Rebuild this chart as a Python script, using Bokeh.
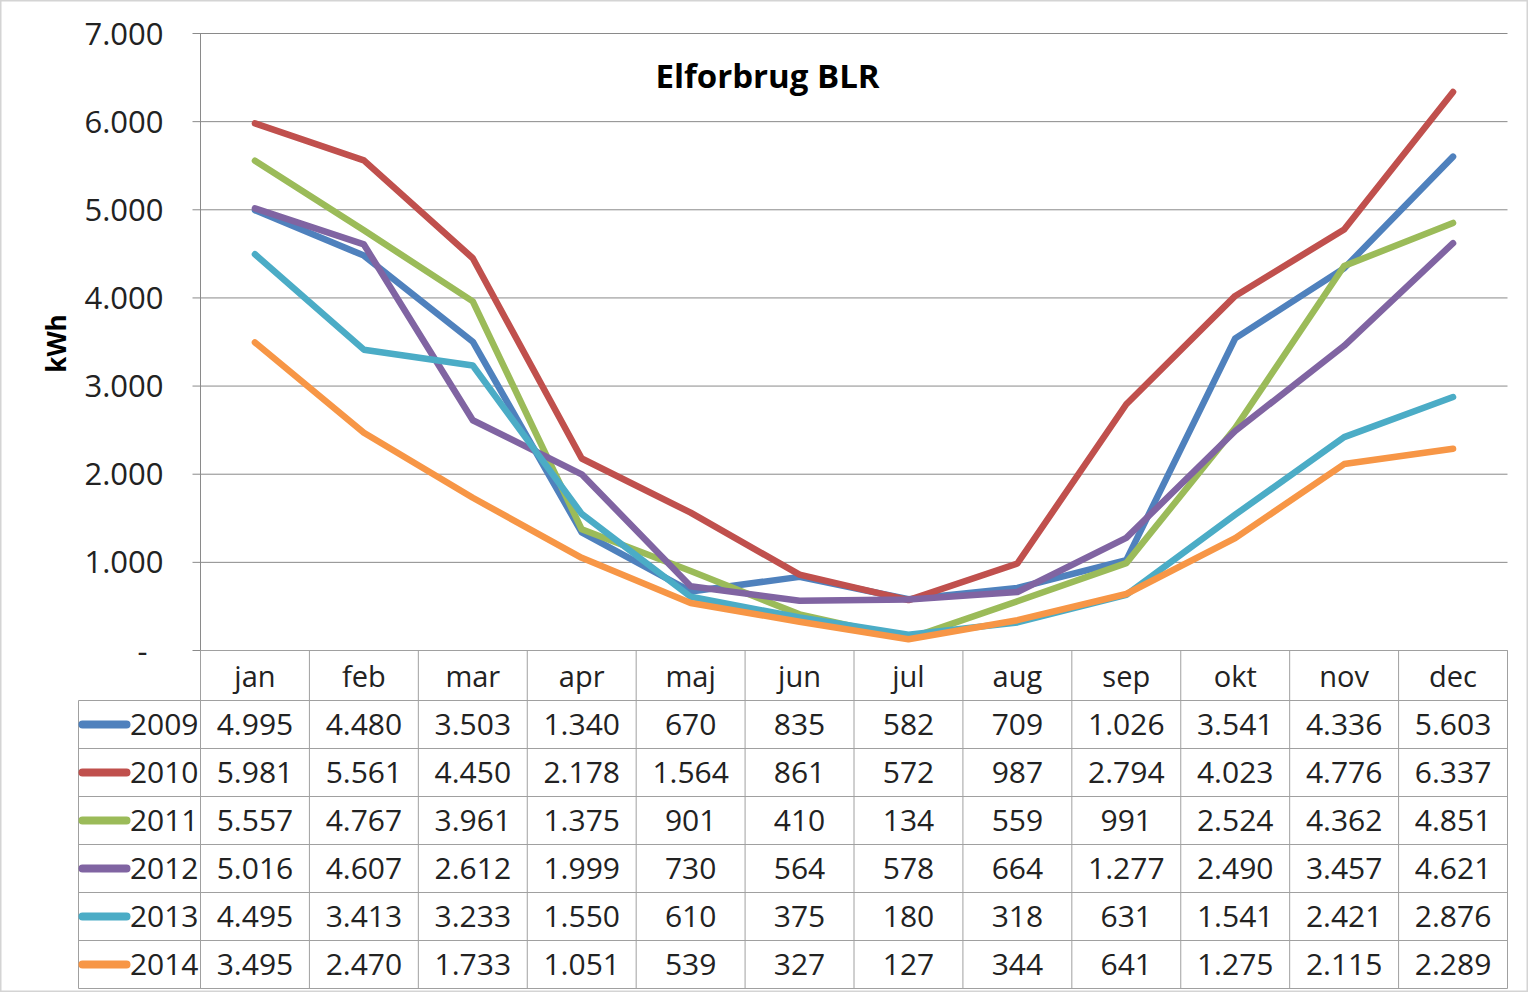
import math
from bokeh.plotting import figure
from bokeh.models import Range1d
from bokeh.core.properties import value
from bokeh.embed import file_html
from bokeh.resources import INLINE

# ---------------- data ----------------
months = ["jan", "feb", "mar", "apr", "maj", "jun", "jul", "aug", "sep", "okt", "nov", "dec"]
years = ["2009", "2010", "2011", "2012", "2013", "2014"]
v2009 = [4995, 4480, 3503, 1340, 670, 835, 582, 709, 1026, 3541, 4336, 5603]
v2010 = [5981, 5561, 4450, 2178, 1564, 861, 572, 987, 2794, 4023, 4776, 6337]
v2011 = [5557, 4767, 3961, 1375, 901, 410, 134, 559, 991, 2524, 4362, 4851]
v2012 = [5016, 4607, 2612, 1999, 730, 564, 578, 664, 1277, 2490, 3457, 4621]
v2013 = [4495, 3413, 3233, 1550, 610, 375, 180, 318, 631, 1541, 2421, 2876]
v2014 = [3495, 2470, 1733, 1051, 539, 327, 127, 344, 641, 1275, 2115, 2289]
series = [v2009, v2010, v2011, v2012, v2013, v2014]
colors = ["#4F81BD", "#C0504D", "#9BBB59", "#8064A2", "#4BACC6", "#F79646"]
y_ticks = [0, 1000, 2000, 3000, 4000, 5000, 6000, 7000]
title_text = "Elforbrug BLR"
y_label = "kWh"

FONT = "Open Sans"
TXT = "#222222"
GRID = "#8a8a8a"
TABLE = "#a0a0a0"


def dk(n):
    return "-" if n == 0 else f"{n:,}".replace(",", ".")


# ---------------- geometry (pixels of the canvas) ----------------
W, H = 1528, 992
X0 = 200.0            # left edge of the 'jan' column / value axis
CW = 1307.0 / 12      # one month column
Y0 = 650.0            # zero line
KPX = 617.0 / 7000    # pixels per kWh
RH = 48.0             # table row height
HDR = 50.0 / RH       # header row height in row units
LEG = 122.0 / CW      # legend column width in month units

p = figure(width=W, height=H,
           x_range=Range1d(-X0 / CW, (W - X0) / CW),
           y_range=Range1d(-(H - Y0) / KPX, Y0 / KPX),
           output_backend="svg", toolbar_location=None,
           x_axis_location=None, y_axis_location=None,
           min_border=0, min_border_left=0, min_border_right=0,
           min_border_top=0, min_border_bottom=0,
           outline_line_color="#d4d4d4", outline_line_width=2,
           background_fill_color="white", border_fill_color="white")
p.grid.visible = False
p.extra_y_ranges = {"tbl": Range1d(HDR - (H - Y0) / RH, HDR + Y0 / RH)}

n = len(months)
nr = len(years)
xc = [i + 0.5 for i in range(n)]

# ---- chart: gridlines with short outer ticks, value axis line ----
tick_out = 8.0 / CW
p.segment(x0=[-tick_out] * len(y_ticks), x1=[n] * len(y_ticks),
          y0=y_ticks, y1=y_ticks, line_color=GRID, line_width=1)
p.segment(x0=[0], x1=[0], y0=[0], y1=[max(y_ticks)], line_color=GRID, line_width=1)

# tick labels
lab_x = [(-(X0 - 147) / CW) if t == 0 else (-(X0 - 163) / CW) for t in y_ticks]
p.text(x=lab_x, y=y_ticks, text=[dk(t) for t in y_ticks],
       text_align="right", text_baseline="middle",
       text_font=value(FONT), text_font_size=value("31px"), text_color=TXT)

# axis title
p.text(x=[-(X0 - 55) / CW], y=[(Y0 - 343) / KPX], text=[y_label], angle=math.pi / 2,
       text_align="center", text_baseline="middle",
       text_font=value(FONT), text_font_size=value("26px"),
       text_font_style="bold", text_color="#000000")

# chart title
p.text(x=[(767 - X0) / CW], y=[(Y0 - 75) / KPX], text=[title_text],
       text_align="center", text_baseline="middle",
       text_font=value(FONT), text_font_size=value("33px"),
       text_font_style="bold", text_color="#000000")

# series lines
for vals, c in zip(series, colors):
    p.line(xc, vals, line_color=c, line_width=6.5,
           line_cap="round", line_join="round")

# ---- data table ----
T = "tbl"
hx0 = [0] + [-LEG] * (nr + 1)
hx1 = [n] * (nr + 2)
hy = [HDR] + [-r for r in range(nr + 1)]
p.segment(x0=hx0, x1=hx1, y0=hy, y1=hy, line_color=TABLE, line_width=1, y_range_name=T)
vx = [-LEG] + list(range(n + 1))
vy0 = [-nr] * (n + 2)
vy1 = [0] + [HDR] * (n + 1)
p.segment(x0=vx, x1=vx, y0=vy0, y1=vy1, line_color=TABLE, line_width=1, y_range_name=T)

p.text(x=xc, y=[HDR / 2] * n, text=months, y_range_name=T,
       text_align="center", text_baseline="middle",
       text_font=value(FONT), text_font_size=value("29px"), text_color=TXT)

xs, ys, ts = [], [], []
for r, vals in enumerate(series):
    for i, v in enumerate(vals):
        xs.append(i + 0.5)
        ys.append(-r - 0.5)
        ts.append(dk(v))
p.text(x=xs, y=ys, text=ts, y_range_name=T,
       text_align="center", text_baseline="middle",
       text_font=value(FONT), text_font_size=value("30px"), text_color=TXT)

ky = [-r - 0.5 for r in range(nr)]
p.segment(x0=[-(X0 - 82) / CW] * nr, x1=[-(X0 - 126) / CW] * nr, y0=ky, y1=ky,
          line_color=colors, line_width=8, line_cap="round", y_range_name=T)
p.text(x=[-(X0 - 198) / CW] * nr, y=ky, text=years, y_range_name=T,
       text_align="right", text_baseline="middle",
       text_font=value(FONT), text_font_size=value("30px"), text_color=TXT)

with open("out.html", "w") as f:
    f.write(file_html(p, INLINE))
